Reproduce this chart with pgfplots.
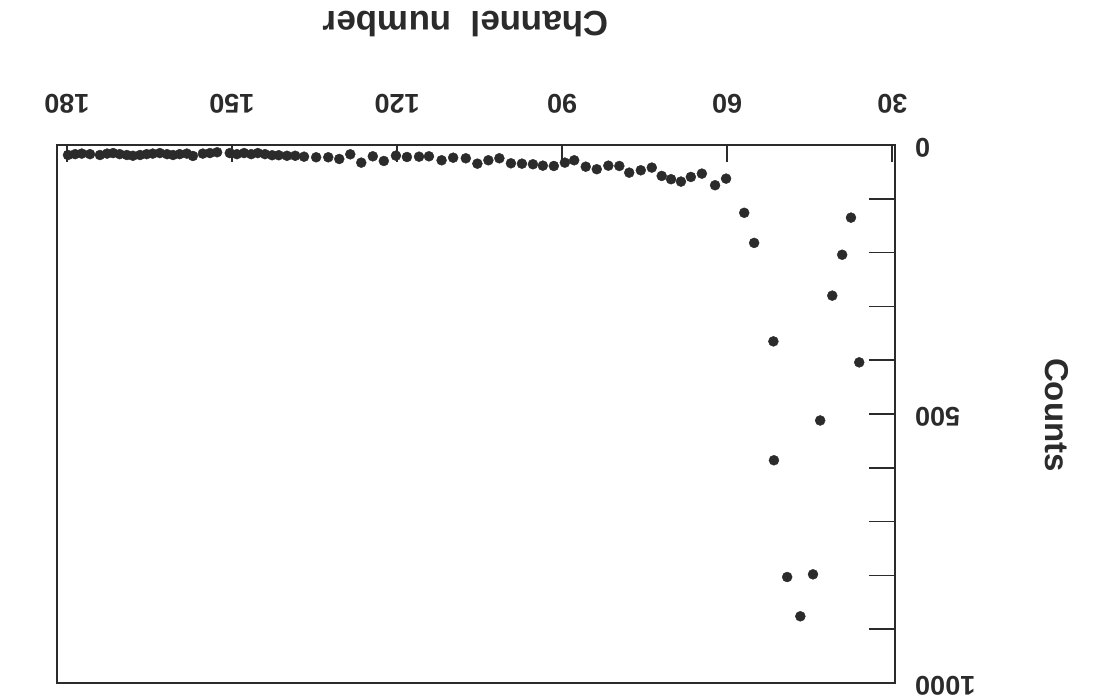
\documentclass[border=0pt]{standalone}
\usepackage{fontspec}
\setmainfont{Liberation Sans}
\usepackage{pgfplots}
\pgfplotsset{compat=1.18}
\definecolor{ink}{HTML}{2B2B2B}
\begin{document}
\begin{tikzpicture}
\useasboundingbox (-57pt,-15pt) rectangle (1062pt,683pt);
\begin{axis}[
  at={(0pt,0pt)}, anchor=south west,
  scale only axis, width=838pt, height=538pt,
  xmin=29.5, xmax=181.8, ymin=0, ymax=1000,
  x dir=reverse, y dir=reverse,
  axis line style={line width=1.6pt, color=ink},
  xtick={30,60,...,180},
  xtick pos=right, xticklabel pos=right,
  ytick={0,100,...,1000},
  yticklabels={0,,,,,500,,,,,1000},
  ytick pos=right, yticklabel pos=right,
  tick align=inside,
  tick style={line width=1.6pt, color=ink},
  xtick style={/pgfplots/major tick length=17pt},
  ytick style={/pgfplots/major tick length=26pt},
  /pgf/number format/assume math mode=true,
  xticklabel style={yshift=31pt, rotate=180, anchor=north, inner sep=0pt, font=\fontsize{27}{31}\selectfont\bfseries, text=ink},
  yticklabel style={xshift=20pt, yshift=-3pt, rotate=180, anchor=east, inner sep=0pt, font=\fontsize{27}{31}\selectfont\bfseries, text=ink},
  clip=false,
]
\addplot[only marks, mark=*, mark size=5pt, color=ink, mark options={draw=ink, fill=ink}] coordinates {
(179.8,18.6) (178.5,17) (177.3,16) (175.8,17) (174,18.6) (172.7,16) (171.6,15) (170.4,17)
(169.1,18.6) (168,20) (166.7,18.6) (165.5,17) (164.4,16) (163.1,15) (161.8,17) (160.7,18.6)
(159.5,17) (158.2,16) (157.1,20.4) (155.3,16) (154,15) (152.7,13.5) (150.4,15) (149.1,17)
(147.8,15) (146.5,17) (145.3,15) (144,17) (142.7,19) (141.5,19) (140,20) (138.5,20)
(136.9,21.7) (134.7,22.8) (132.5,22.8) (130.5,26) (128.5,17.3) (126.5,32.8) (124.4,21)
(122.4,29.7) (120.2,19.8) (118.2,22.3) (116,21.7) (114.2,21) (111.9,28.4) (109.8,23.6)
(107.5,24.7) (105.4,34.7) (103.4,28.4) (101.4,24.7) (99.3,34) (97.3,34.7) (95.3,35.8)
(93.5,38.4) (91.5,39) (89.5,32.8) (87.8,28.4) (85.7,40.3) (83.7,45) (81.6,38.4) (79.6,39)
(77.8,51.4) (75.7,47) (73.7,42) (71.9,57.5) (70.2,63.6) (68.4,68) (66.6,59.4) (64.6,53.2)
(62.2,74.8) (60.2,62.5) (56.9,126) (55.1,182) (51.6,365) (51.5,586) (49.1,803) (46.7,876)
(44.4,798) (43.1,512) (40.9,280) (39.1,204) (37.5,135) (36.0,404)
};
\end{axis}
\node[rotate=180, font=\fontsize{35}{39}\selectfont\bfseries, text=ink, inner sep=0pt] at (409pt,659pt) {Channel\ \ number};
\node[rotate=-90, font=\fontsize{33}{37}\selectfont\bfseries, text=ink, inner sep=0pt] at (1000pt,268pt) {Counts};
\end{tikzpicture}
\end{document}
